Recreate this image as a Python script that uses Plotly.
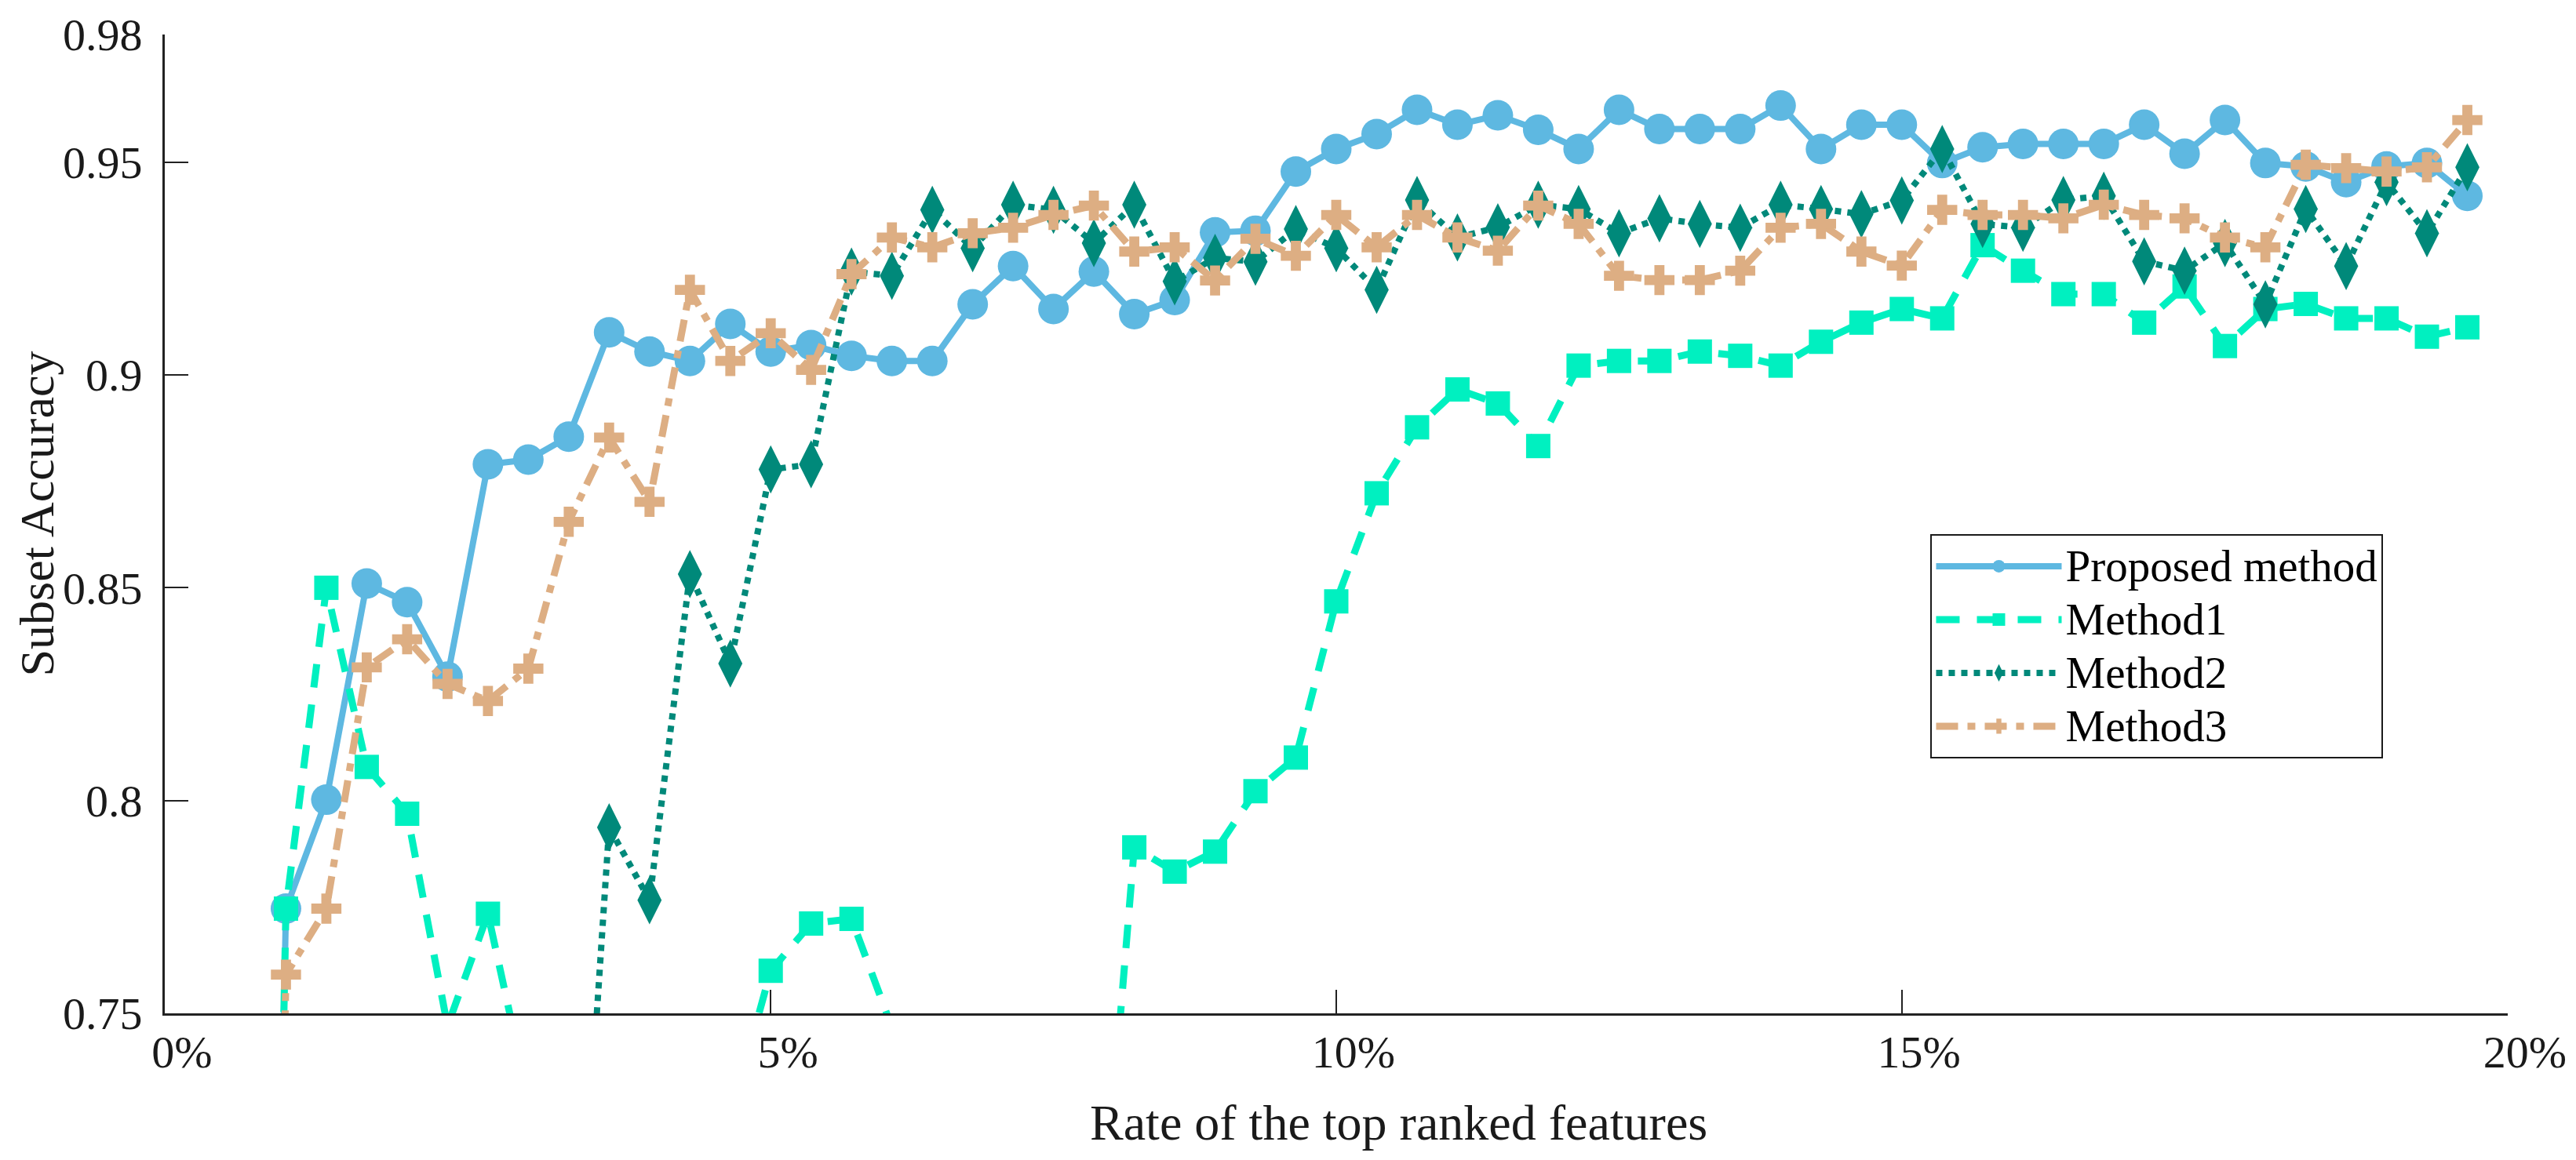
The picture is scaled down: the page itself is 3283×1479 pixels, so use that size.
import plotly.graph_objects as go

# x positions are feature-rank indices (axis spans index 0..58 == 0%..20%)
feature_index = list(range(2, 58))
tick_index = [0, 15, 29, 43, 58]
tick_text = ["0%", "5%", "10%", "15%", "20%"]
y_ticks = [0.75, 0.8, 0.85, 0.9, 0.95, 0.98]
y_tick_text = ["0.75", "0.8", "0.85", "0.9", "0.95", "0.98"]

proposed = [0.30, 0.7746, 0.8002, 0.851, 0.8466, 0.8291, 0.879, 0.8801, 0.8855, 0.910,
            0.9055, 0.9033, 0.912, 0.9055, 0.907, 0.9045, 0.9033, 0.9033, 0.9166, 0.9256,
            0.9155, 0.9243, 0.9143, 0.9176, 0.9335, 0.9339, 0.9478, 0.9531, 0.9566, 0.9623,
            0.9588, 0.961, 0.9576, 0.9531, 0.9623, 0.9578, 0.9578, 0.9578, 0.9633, 0.9531,
            0.9588, 0.9588, 0.9498, 0.9535, 0.9543, 0.9543, 0.9543, 0.9588, 0.952, 0.9599,
            0.9498, 0.949, 0.9453, 0.949, 0.9498, 0.9421]

method1 = [0.30, 0.7746, 0.850, 0.8079, 0.7969, 0.747, 0.7734, 0.730, 0.700, 0.690,
           0.700, 0.700, 0.7255, 0.760, 0.7711, 0.7722, 0.7467, 0.700, 0.690, 0.680,
           0.680, 0.674, 0.789, 0.7833, 0.788, 0.8022, 0.8101, 0.8468, 0.8722, 0.8877,
           0.8966, 0.8933, 0.8833, 0.9022, 0.9033, 0.9033, 0.9055, 0.9045, 0.9022, 0.9078,
           0.9123, 0.9155, 0.9133, 0.9305, 0.9245, 0.919, 0.919, 0.9123, 0.9208, 0.9068,
           0.9155, 0.9167, 0.9133, 0.9133, 0.909, 0.9112]

method2 = [0.60, 0.60, 0.61, 0.62, 0.62, 0.63, 0.63, 0.64, 0.65, 0.7937,
           0.7766, 0.8532, 0.8322, 0.8778, 0.879, 0.9243, 0.9233, 0.9388, 0.9298, 0.940,
           0.9388, 0.931, 0.940, 0.922, 0.9275, 0.9266, 0.9343, 0.9298, 0.920, 0.9411,
           0.9323, 0.9347, 0.940, 0.939, 0.9333, 0.9368, 0.9355, 0.9346, 0.940, 0.939,
           0.9378, 0.941, 0.9531, 0.9355, 0.9346, 0.9411, 0.9421, 0.9267, 0.9245, 0.931,
           0.9166, 0.939, 0.9256, 0.9453, 0.9333, 0.9488]

method3 = [0.30, 0.7591, 0.7746, 0.8313, 0.8379, 0.8274, 0.8234, 0.8310, 0.8655, 0.8853,
           0.8702, 0.920, 0.9033, 0.9098, 0.9012, 0.9237, 0.9323, 0.930, 0.9333, 0.9346,
           0.9376, 0.9398, 0.929, 0.930, 0.9222, 0.932, 0.928, 0.9376, 0.930, 0.9376,
           0.9323, 0.9292, 0.9398, 0.9355, 0.9233, 0.9223, 0.9223, 0.9245, 0.9346, 0.9355,
           0.929, 0.9257, 0.9388, 0.9376, 0.9376, 0.9368, 0.940, 0.9376, 0.9368, 0.9323,
           0.930, 0.9494, 0.9486, 0.9478, 0.9488, 0.9599]

series_names = ["Proposed method", "Method1", "Method2", "Method3"]
colors = ["#5EB8E1", "#00F0C0", "#00897A", "#DDAE83"]

FONT = "Liberation Serif"


def legend_label(name):
    return '<span style="font-size:57px">' + name + '</span>'


fig = go.Figure()
fig.add_trace(go.Scatter(
    x=feature_index, y=proposed, name=legend_label(series_names[0]), mode="lines+markers",
    line=dict(color=colors[0], width=8),
    marker=dict(symbol="circle", size=39, color=colors[0])))
fig.add_trace(go.Scatter(
    x=feature_index, y=method1, name=legend_label(series_names[1]), mode="lines+markers",
    line=dict(color=colors[1], width=9, dash="30px,22px"),
    marker=dict(symbol="square", size=31, color=colors[1])))
fig.add_trace(go.Scatter(
    x=feature_index, y=method2, name=legend_label(series_names[2]), mode="lines+markers",
    line=dict(color=colors[2], width=8, dash="8px,8px"),
    marker=dict(symbol="diamond-tall", size=44, color=colors[2])))
fig.add_trace(go.Scatter(
    x=feature_index, y=method3, name=legend_label(series_names[3]), mode="lines+markers",
    line=dict(color=colors[3], width=9, dash="28px,12px,10px,12px"),
    marker=dict(symbol="cross", size=32, color=colors[3])))

W, H = 3283, 1479
L, R, T, B = 210, 81, 34, 187
plot_w = W - L - R
plot_h = H - T - B

fig.update_layout(
    width=W, height=H,
    margin=dict(l=L, r=R, t=T, b=B, pad=0),
    paper_bgcolor="white", plot_bgcolor="white",
    font=dict(family=FONT, size=58, color="#1a1a1a"),
    showlegend=True,
    legend=dict(
        x=(2465 - L) / plot_w, y=(H - B - 676) / plot_h,
        xanchor="left", yanchor="top",
        bgcolor="white", bordercolor="#1a1a1a", borderwidth=2,
        font=dict(family=FONT, size=50, color="black"),
        itemwidth=160, tracegroupgap=0,
    ),
)

fig.update_xaxes(
    range=[0, 58], tickmode="array", tickvals=tick_index, ticktext=tick_text,
    showgrid=False, zeroline=False, showline=True, linecolor="#222", linewidth=3,
    ticks="inside", ticklen=30, tickwidth=2, tickcolor="#222", mirror=False,
    tickfont=dict(family=FONT, size=58, color="#1a1a1a"),
    ticklabelshift=22, ticklabelstandoff=-4,
)
fig.update_yaxes(
    range=[0.75, 0.98], tickmode="array", tickvals=y_ticks, ticktext=y_tick_text,
    showgrid=False, zeroline=False, showline=True, linecolor="#222", linewidth=3,
    ticks="inside", ticklen=30, tickwidth=2, tickcolor="#222", mirror=False,
    tickfont=dict(family=FONT, size=58, color="#1a1a1a"),
    ticklabelstandoff=14,
)

fig.add_annotation(
    text="Rate of the top ranked features", xref="paper", yref="paper",
    x=(1786 - L) / plot_w, y=-(1433 - (H - B)) / plot_h,
    xanchor="center", yanchor="middle", showarrow=False,
    font=dict(family=FONT, size=64, color="#1a1a1a"))
fig.add_annotation(
    text="Subset Accuracy", xref="paper", yref="paper",
    x=(47 - L) / plot_w, y=(H - B - 650) / plot_h,
    xanchor="center", yanchor="middle", textangle=-90, showarrow=False,
    font=dict(family=FONT, size=62, color="#1a1a1a"))

fig.write_html("out.html", config={"displayModeBar": False},
               post_script="document.body.style.margin='0';")
